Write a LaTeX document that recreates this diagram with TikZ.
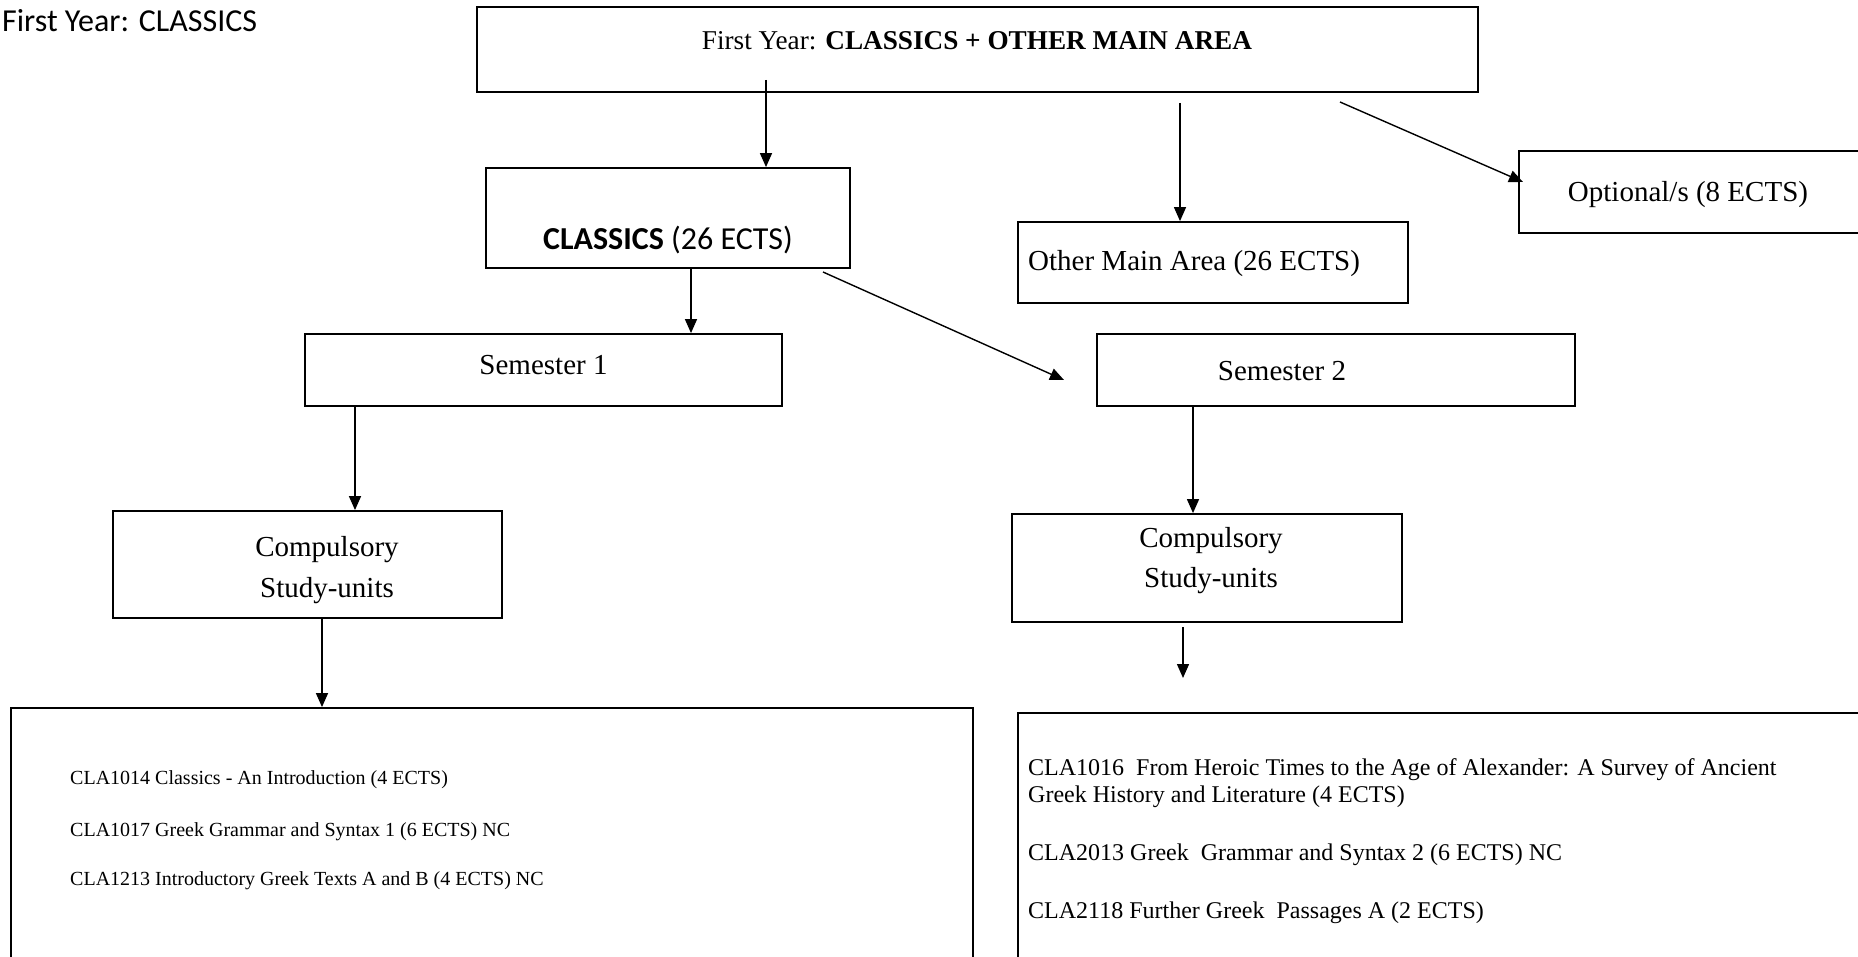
\documentclass[tikz,border=0pt]{standalone}
\usepackage{fontspec}
\setmainfont{Liberation Serif}
\newfontfamily\calibri{Carlito}
\usetikzlibrary{arrows.meta}
\begin{document}
\begin{tikzpicture}[x=1pt,y=-1pt,
  box/.style={draw, line width=1.8pt, inner sep=0pt, rectangle},
  arr/.style={line width=1.4pt, -{Triangle[length=14pt,width=12pt]}},
  bt/.style={font=\fontsize{29}{35}\selectfont, inner sep=0pt},
  lt/.style={font=\fontsize{24}{29}\selectfont, inner sep=0pt, anchor=base west},
  llt/.style={font=\fontsize{20}{24}\selectfont, inner sep=0pt, anchor=base west},
  ct/.style={font=\calibri\fontsize{32}{38}\selectfont, inner sep=0pt},
]
\useasboundingbox (0,0) rectangle (1858,957);
\clip (0,0) rectangle (1858,957);

% boxes
\node[box, minimum width=1001pt, minimum height=85pt] (top) at (977.5,49.5) {};
\node[box, minimum width=364pt, minimum height=100pt] (cls) at (668,218) {};
\node[box, minimum width=390pt, minimum height=81pt] (other) at (1213,262.5) {};
\node[box, minimum width=361pt, minimum height=82pt] (opt) at (1699.5,192) {};
\node[box, minimum width=477pt, minimum height=72pt] (sem1) at (543.5,370) {};
\node[box, minimum width=478pt, minimum height=72pt] (sem2) at (1336,370) {};
\node[box, minimum width=389pt, minimum height=107pt] (compL) at (307.5,564.5) {};
\node[box, minimum width=390pt, minimum height=108pt] (compR) at (1207,568) {};
\node[box, minimum width=962pt, minimum height=272pt] (bigL) at (492,844) {};
\node[box, minimum width=862pt, minimum height=267pt] (bigR) at (1449,846.5) {};

% texts
\node[ct, anchor=base west] (title) at (2,32) {First Year: CLASSICS};
\node[bt, anchor=base, font=\fontsize{27.2}{33}\selectfont] (topT) at (977,50) {First Year: \textbf{CLASSICS + OTHER MAIN AREA}};
\node[ct] (clsT) at (668,240) {\textbf{CLASSICS} (26 ECTS)};
\node[bt, anchor=west] (otherT) at (1028,264) {Other Main Area (26 ECTS)};
\node[bt] (optT) at (1688,195) {Optional/s (8 ECTS)};
\node[bt] (sem1T) at (543.5,365) {Semester 1};
\node[bt] (sem2T) at (1282,371) {Semester 2};
\node[bt, align=center] (compLT) at (327,570) {Compulsory\\[6.5pt]Study-units};
\node[bt, align=center] (compRT) at (1211,561) {Compulsory\\[5pt]Study-units};

\node[llt] (l1) at (70,784.5) {CLA1014 Classics - An Introduction (4 ECTS)};
\node[llt] (l2) at (70,836.5) {CLA1017 Greek Grammar and Syntax 1 (6 ECTS) NC};
\node[llt] (l3) at (70,885.5) {CLA1213 Introductory Greek Texts A and B (4 ECTS) NC};

\node[lt] (r1a) at (1028,775) {CLA1016~ From Heroic Times to the Age of Alexander: A Survey of Ancient};
\node[lt] (r1b) at (1028,802) {Greek History and Literature (4 ECTS)};
\node[lt] (r2) at (1028,860) {CLA2013 Greek~ Grammar and Syntax 2 (6 ECTS) NC};
\node[lt] (r3) at (1028,918) {CLA2118 Further Greek~ Passages A (2 ECTS)};

% connector coordinates
\coordinate (a1s) at (766,80);
\coordinate (x766) at (766,0);
\coordinate (a2s) at (1180,103);
\coordinate (x1180) at (1180,0);
\coordinate (a3s) at (1340,102);
\coordinate (a3e) at (1523,182);
\coordinate (x691) at (691,0);
\coordinate (a5s) at (823,272);
\coordinate (a5e) at (1064,380);
\coordinate (x355) at (355,0);
\coordinate (x322) at (322,0);
\coordinate (x1193) at (1193,0);
\coordinate (a9s) at (1183,627);
\coordinate (a9e) at (1183,678);

% connectors
\draw[arr] (a1s) -- (cls.north -| x766);
\draw[arr] (a2s) -- (other.north -| x1180);
\draw[arr] (a3s) -- (a3e);
\draw[arr] (cls.south -| x691) -- (sem1.north -| x691);
\draw[arr] (a5s) -- (a5e);
\draw[arr] (sem1.south -| x355) -- (compL.north -| x355);
\draw[arr] (compL.south -| x322) -- (bigL.north -| x322);
\draw[arr] (sem2.south -| x1193) -- (compR.north -| x1193);
\draw[arr] (a9s) -- (a9e);
\end{tikzpicture}
\end{document}
